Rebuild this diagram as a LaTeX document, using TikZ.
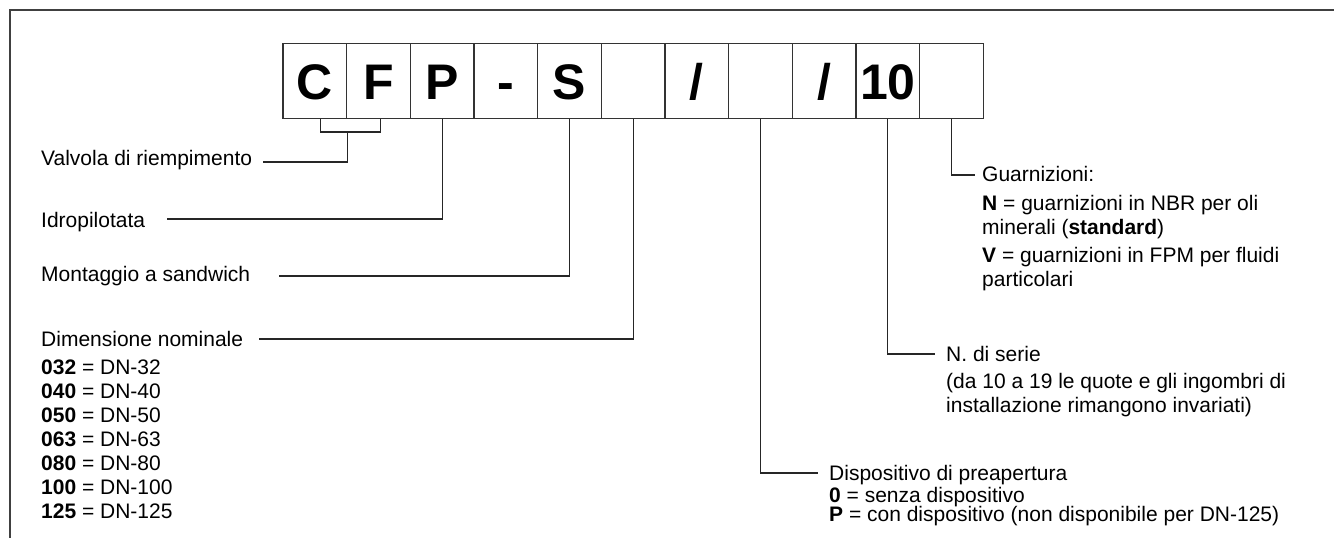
\documentclass[tikz,border=0pt]{standalone}
\usepackage{fontspec}
\setmainfont{Liberation Sans}
\usetikzlibrary{calc}

\tikzset{
  cell/.style={draw=black!80, line width=1.3pt, minimum width=63.7pt, minimum height=75pt,
    inner sep=0pt, text height=37pt, text depth=0pt, font=\fontsize{50}{50}\selectfont\bfseries},
  lbl/.style={anchor=base west, inner sep=0pt, font=\fontsize{21}{24}\selectfont},
  lead/.style={draw=black!85, line width=1.3pt},
}

\begin{document}
\begin{tikzpicture}[x=1pt,y=-1pt]
\useasboundingbox (0,0) rectangle (1334,538);
%Frame
\draw [black!75, line width=2pt] (1334,10) -- (10,10) -- (10,538);

%Code boxes
\node [cell] (1) at (314.8,80.8) {C};
\node [cell] (2) at (378.5,80.8) {F};
\node [cell] (3) at (442.2,80.8) {P};
\node [cell] (4) at (505.8,80.8) {-};
\node [cell] (5) at (569.5,80.8) {S};
\node [cell] (6) at (633.2,80.8) {};
\node [cell] (7) at (696.8,80.8) {/};
\node [cell] (8) at (760.5,80.8) {};
\node [cell] (9) at (824.2,80.8) {/};
\node [cell] (10) at (887.8,80.8) {10};
\node [cell] (11) at (951.5,80.8) {};

%Left labels
\node [lbl] (l1) at (41,165.5) {Valvola di riempimento};
\node [lbl] (l2) at (41,227) {Idropilotata};
\node [lbl] (l3) at (41,281) {Montaggio a sandwich};
\node [lbl] (l4) at (41,346.5) {Dimensione nominale};
\node [lbl] (l5) at (41,374.5) {\textbf{032} = DN-32};
\node [lbl] (l6) at (41,398.5) {\textbf{040} = DN-40};
\node [lbl] (l7) at (41,422.5) {\textbf{050} = DN-50};
\node [lbl] (l8) at (41,446.5) {\textbf{063} = DN-63};
\node [lbl] (l9) at (41,470.5) {\textbf{080} = DN-80};
\node [lbl] (l10) at (41,494.5) {\textbf{100} = DN-100};
\node [lbl] (l11) at (41,518.5) {\textbf{125} = DN-125};

%Right labels
\node [lbl] (r1) at (982,181.5) {Guarnizioni:};
\node [lbl] (r2) at (982,210.5) {\textbf{N} = guarnizioni in NBR per oli};
\node [lbl] (r3) at (982,234.5) {minerali (\textbf{standard})};
\node [lbl] (r4) at (982,262.5) {\textbf{V} = guarnizioni in FPM per fluidi};
\node [lbl] (r5) at (982,286.5) {particolari};
\node [lbl] (r6) at (946,361.5) {N. di serie};
\node [lbl] (r7) at (946,388.5) {(da 10 a 19 le quote e gli ingombri di};
\node [lbl] (r8) at (946,412.5) {installazione rimangono invariati)};
\node [lbl] (r9) at (829,480.5) {Dispositivo di preapertura};
\node [lbl] (r10) at (829,502) {\textbf{0} = senza dispositivo};
\node [lbl] (r11) at (829,521) {\textbf{P} = con dispositivo (non disponibile per DN-125)};

%Leader ends
\coordinate (e1) at (263,162);
\coordinate (e2) at (167,219);
\coordinate (e3) at (279,276);
\coordinate (e4) at (259,339);
\coordinate (e5) at (818,473);
\coordinate (e6) at (935,354);
\coordinate (e7) at (975,175);

%Leaders
\draw [lead] ($(1.south)+(6,0)$) -- ++(0,13) -| ($(2.south)+(2,0)$);
\draw [lead] (1.south east) ++(0,13) |- (e1);
\draw [lead] (3.south) |- (e2);
\draw [lead] (5.south) |- (e3);
\draw [lead] (6.south) |- (e4);
\draw [lead] (8.south) |- (e5);
\draw [lead] (10.south) |- (e6);
\draw [lead] (11.south) |- (e7);
\end{tikzpicture}
\end{document}
